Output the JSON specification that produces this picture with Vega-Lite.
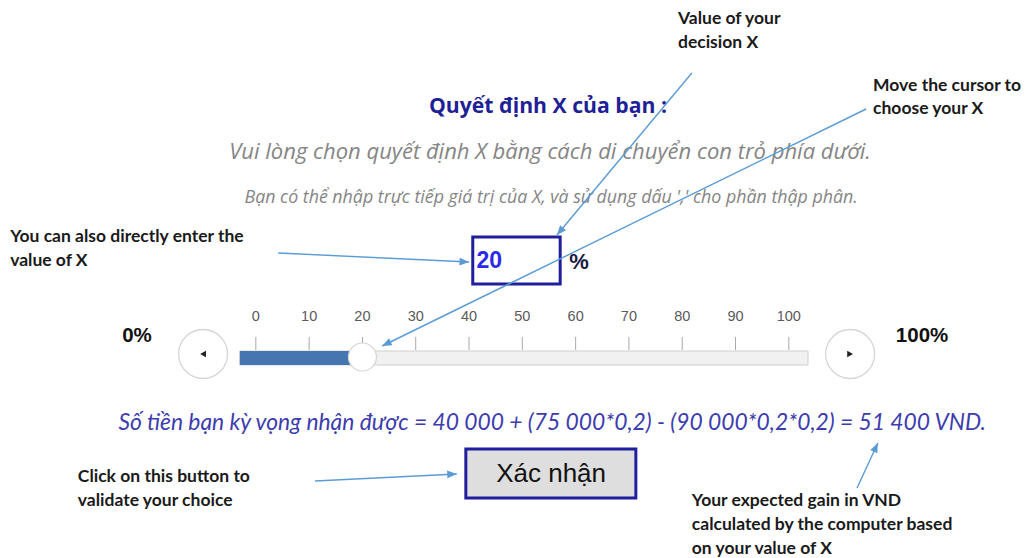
{
  "$schema": "https://vega.github.io/schema/vega-lite/v6.json",
  "width": 1026,
  "height": 558,
  "padding": 0,
  "autosize": {"type": "fit", "contains": "padding"},
  "background": "white",
  "config": {"view": {"stroke": null}},
  "datasets": {
    "title": [{"x": 54.8, "y": 107, "t": "Quyết định X của bạn :"}],
    "sub": [{"x": 55.2, "y": 152, "t": "Vui lòng chọn quyết định X bằng cách di chuyển con trỏ phía dưới."}],
    "hint": [{"x": 55.4, "y": 198, "t": "Bạn có thể nhập trực tiếp giá trị của X, và sử dụng dấu ',' cho phần thập phân."}],
    "box": [{"x": 40.7, "x2": 57.1, "y": 237, "y2": 284}],
    "value": [{"x": 41.4, "y": 261, "t": "20"}],
    "pct": [{"x": 58.8, "y": 262, "t": "%"}],
    "ticks": [
      {"x": 0, "y": 337, "y2": 350, "ly": 317}, {"x": 10, "y": 337, "y2": 350, "ly": 317},
      {"x": 20, "y": 337, "y2": 350, "ly": 317}, {"x": 30, "y": 337, "y2": 350, "ly": 317},
      {"x": 40, "y": 337, "y2": 350, "ly": 317}, {"x": 50, "y": 337, "y2": 350, "ly": 317},
      {"x": 60, "y": 337, "y2": 350, "ly": 317}, {"x": 70, "y": 337, "y2": 350, "ly": 317},
      {"x": 80, "y": 337, "y2": 350, "ly": 317}, {"x": 90, "y": 337, "y2": 350, "ly": 317},
      {"x": 100, "y": 337, "y2": 350, "ly": 317}
    ],
    "track": [{"x": -3, "x2": 103.6, "y": 351, "y2": 365}],
    "fill": [{"x": -3, "x2": 20, "y": 351, "y2": 365}],
    "handle": [{"x": 20, "y": 357}],
    "btnL": [{"x": -9.9, "y": 354}],
    "btnR": [{"x": 111.5, "y": 354}],
    "ends": [{"x": -22.3, "y": 336, "t": "0%"}, {"x": 125, "y": 336, "t": "100%"}],
    "eq": [{"x": 55.6, "y": 423, "t": "Số tiền bạn kỳ vọng nhận được = 40 000 + (75 000*0,2) - (90 000*0,2*0,2) = 51 400 VND."}],
    "okbox": [{"x": 39.4, "x2": 71.3, "y": 449, "y2": 498}],
    "oktext": [{"x": 55.4, "y": 474, "t": "Xác nhận"}],
    "notes": [
      {"x": 79.2, "y": 19, "t": "Value of your"},
      {"x": 79.2, "y": 43, "t": "decision X"},
      {"x": 115.8, "y": 86, "t": "Move the cursor to"},
      {"x": 115.8, "y": 109, "t": "choose your X"},
      {"x": -46.1, "y": 237, "t": "You can also directly enter the"},
      {"x": -46.1, "y": 261, "t": "value of X"},
      {"x": -33.4, "y": 477, "t": "Click on this button to"},
      {"x": -33.4, "y": 501, "t": "validate your choice"},
      {"x": 81.8, "y": 501, "t": "Your expected gain in VND"},
      {"x": 81.8, "y": 525, "t": "calculated by the computer based"},
      {"x": 81.8, "y": 549, "t": "on your value of X"}
    ],
    "arrows": [
      {"x": 81.8, "y": 73, "x2": 56.5, "y2": 235, "a": 219.8},
      {"x": 114.5, "y": 109, "x2": 23.7, "y2": 346, "a": 243.9},
      {"x": 4.2, "y": 253, "x2": 40.0, "y2": 262, "a": 92.7},
      {"x": 11.1, "y": 481, "x2": 37.7, "y2": 474, "a": 87.2},
      {"x": 112.8, "y": 488, "x2": 116.7, "y2": 443, "a": 25.0}
    ]
  },
  "encoding": {
    "x": {"field": "x", "type": "quantitative", "scale": {"domain": [-48, 144.5], "nice": false, "zero": false}, "axis": null},
    "y": {"field": "y", "type": "quantitative", "scale": {"domain": [0, 558], "nice": false, "zero": false, "reverse": true}, "axis": null}
  },
  "layer": [
    {"data": {"name": "title"}, "mark": {"type": "text", "font": "Open Sans", "fontWeight": "bold", "fontSize": 21.2, "color": "#1f1f96", "align": "center", "baseline": "middle"}, "encoding": {"text": {"field": "t"}}},
    {"data": {"name": "sub"}, "mark": {"type": "text", "font": "Open Sans", "fontStyle": "italic", "fontSize": 22, "color": "#858585", "align": "center", "baseline": "middle"}, "encoding": {"text": {"field": "t"}}},
    {"data": {"name": "hint"}, "mark": {"type": "text", "font": "Open Sans", "fontStyle": "italic", "fontSize": 17.8, "color": "#858585", "align": "center", "baseline": "middle"}, "encoding": {"text": {"field": "t"}}},
    {"data": {"name": "box"}, "mark": {"type": "rect", "fill": "white", "stroke": "#1f1f9e", "strokeWidth": 3}, "encoding": {"x2": {"field": "x2"}, "y2": {"field": "y2"}}},
    {"data": {"name": "value"}, "mark": {"type": "text", "font": "Liberation Sans", "fontWeight": "bold", "fontSize": 23, "color": "#2a2ae8", "align": "left", "baseline": "middle"}, "encoding": {"text": {"field": "t"}}},
    {"data": {"name": "pct"}, "mark": {"type": "text", "font": "Liberation Sans", "fontWeight": "bold", "fontSize": 22, "color": "#1a1a40", "align": "left", "baseline": "middle"}, "encoding": {"text": {"field": "t"}}},
    {"data": {"name": "ticks"}, "mark": {"type": "rule", "color": "#a8a8a8", "strokeWidth": 1}, "encoding": {"y2": {"field": "y2"}}},
    {"data": {"name": "ticks"}, "mark": {"type": "text", "font": "Liberation Sans", "fontSize": 14.5, "color": "#5a5a5a", "align": "center", "baseline": "middle"}, "encoding": {"y": {"field": "ly", "type": "quantitative"}, "text": {"field": "x", "type": "quantitative"}}},
    {"data": {"name": "track"}, "mark": {"type": "rect", "fill": "#f1f1f1", "stroke": "#cfcfcf", "strokeWidth": 1}, "encoding": {"x2": {"field": "x2"}, "y2": {"field": "y2"}}},
    {"data": {"name": "fill"}, "mark": {"type": "rect", "fill": "#4676b2"}, "encoding": {"x2": {"field": "x2"}, "y2": {"field": "y2"}}},
    {"data": {"name": "handle"}, "mark": {"type": "point", "shape": "circle", "filled": true, "fill": "white", "stroke": "#d4d4d4", "strokeWidth": 1.2, "size": 784, "opacity": 1}},
    {"data": {"name": "btnL"}, "mark": {"type": "point", "shape": "circle", "filled": true, "fill": "white", "stroke": "#d6d6d6", "strokeWidth": 1.3, "size": 2400, "opacity": 1}},
    {"data": {"name": "btnR"}, "mark": {"type": "point", "shape": "circle", "filled": true, "fill": "white", "stroke": "#d6d6d6", "strokeWidth": 1.3, "size": 2400, "opacity": 1}},
    {"data": {"name": "btnL"}, "mark": {"type": "point", "shape": "triangle-left", "filled": true, "color": "#222222", "size": 45, "opacity": 1}},
    {"data": {"name": "btnR"}, "mark": {"type": "point", "shape": "triangle-right", "filled": true, "color": "#222222", "size": 45, "opacity": 1}},
    {"data": {"name": "ends"}, "mark": {"type": "text", "font": "Liberation Sans", "fontWeight": "bold", "fontSize": 20.5, "color": "#111111", "align": "center", "baseline": "middle"}, "encoding": {"text": {"field": "t"}}},
    {"data": {"name": "eq"}, "mark": {"type": "text", "font": "Lato", "fontStyle": "italic", "fontSize": 22.8, "color": "#3c3cae", "align": "center", "baseline": "middle"}, "encoding": {"text": {"field": "t"}}},
    {"data": {"name": "okbox"}, "mark": {"type": "rect", "fill": "#dedede", "stroke": "#1f1f9e", "strokeWidth": 3}, "encoding": {"x2": {"field": "x2"}, "y2": {"field": "y2"}}},
    {"data": {"name": "oktext"}, "mark": {"type": "text", "font": "Liberation Sans", "fontSize": 26, "color": "#111111", "align": "center", "baseline": "middle"}, "encoding": {"text": {"field": "t"}}},
    {"data": {"name": "notes"}, "mark": {"type": "text", "font": "Lato", "fontWeight": "bold", "fontSize": 17.5, "color": "#1a1a1a", "align": "left", "baseline": "middle"}, "encoding": {"text": {"field": "t"}}},
    {"data": {"name": "arrows"}, "mark": {"type": "rule", "color": "#5b9bd5", "strokeWidth": 1.4}, "encoding": {"x2": {"field": "x2"}, "y2": {"field": "y2"}}},
    {"data": {"name": "arrows"}, "mark": {"type": "point", "shape": "M0,0L-0.55,1.35L0.55,1.35Z", "filled": true, "color": "#5b9bd5", "size": 200, "opacity": 1}, "encoding": {"x": {"field": "x2", "type": "quantitative"}, "y": {"field": "y2", "type": "quantitative"}, "angle": {"field": "a", "type": "quantitative", "scale": null}}}
  ]
}
